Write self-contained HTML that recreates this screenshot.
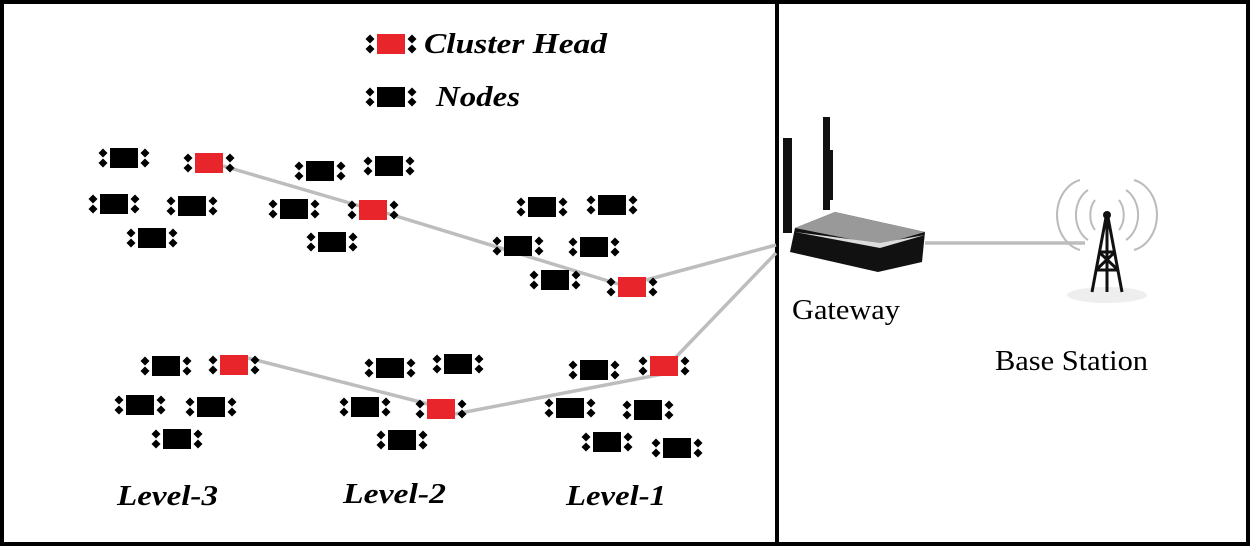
<!DOCTYPE html>
<html><head><meta charset="utf-8"><style>
html,body{margin:0;padding:0;background:#fff;}
svg{display:block;}
</style></head><body>
<svg width="1250" height="546" viewBox="0 0 1250 546" xmlns="http://www.w3.org/2000/svg">
<defs>
<g id="d"><polygon points="0,-4.5 4.5,0 0,4.5 -4.5,0" fill="#000"/></g>
<g id="n">
<rect x="-14" y="-10" width="28" height="20" fill="#000"/>
<use href="#d" x="-21" y="-5"/><use href="#d" x="-21" y="5"/>
<use href="#d" x="21" y="-5"/><use href="#d" x="21" y="5"/>
</g>
<g id="c">
<rect x="-14" y="-10" width="28" height="20" fill="#e8252a"/>
<use href="#d" x="-21" y="-5"/><use href="#d" x="-21" y="5"/>
<use href="#d" x="21" y="-5"/><use href="#d" x="21" y="5"/>
</g>
</defs>
<rect x="2" y="2" width="1246" height="542" fill="#fff" stroke="#000" stroke-width="4"/>
<line x1="777" y1="0" x2="777" y2="546" stroke="#000" stroke-width="4"/>

<g stroke="#bdbdbd" stroke-width="3.5" fill="none">
<line x1="223" y1="166" x2="360" y2="206"/>
<line x1="386" y1="213" x2="618" y2="284"/>
<line x1="646" y1="280" x2="776" y2="245"/>
<line x1="676" y1="357" x2="776" y2="253"/>
<line x1="248" y1="358" x2="428" y2="404"/>
<line x1="455" y1="414" x2="668" y2="373"/>
<line x1="925" y1="243" x2="1085" y2="243"/>
</g>

<use href="#c" x="391" y="44"/>
<use href="#n" x="391" y="97"/>
<g font-family="Liberation Serif, serif" font-weight="bold" font-style="italic" font-size="28" fill="#000">
<text x="424" y="53" textLength="183" lengthAdjust="spacingAndGlyphs">Cluster Head</text>
<text x="436" y="106" textLength="84" lengthAdjust="spacingAndGlyphs">Nodes</text>
<text x="117" y="505" textLength="101" lengthAdjust="spacingAndGlyphs">Level-3</text>
<text x="343" y="503" textLength="103" lengthAdjust="spacingAndGlyphs">Level-2</text>
<text x="566" y="505" textLength="100" lengthAdjust="spacingAndGlyphs">Level-1</text>
</g>

<use href="#n" x="124" y="158"/><use href="#c" x="209" y="163"/>
<use href="#n" x="114" y="204"/><use href="#n" x="192" y="206"/><use href="#n" x="152" y="238"/>
<use href="#n" x="320" y="171"/><use href="#n" x="389" y="166"/>
<use href="#n" x="294" y="209"/><use href="#c" x="373" y="210"/><use href="#n" x="332" y="242"/>
<use href="#n" x="542" y="207"/><use href="#n" x="612" y="205"/>
<use href="#n" x="518" y="246"/><use href="#n" x="594" y="247"/>
<use href="#n" x="555" y="280"/><use href="#c" x="632" y="287"/>

<use href="#n" x="166" y="366"/><use href="#c" x="234" y="365"/>
<use href="#n" x="140" y="405"/><use href="#n" x="211" y="407"/><use href="#n" x="177" y="439"/>
<use href="#n" x="390" y="368"/><use href="#n" x="458" y="364"/>
<use href="#n" x="365" y="407"/><use href="#c" x="441" y="409"/><use href="#n" x="402" y="440"/>
<use href="#n" x="594" y="370"/><use href="#c" x="664" y="366"/>
<use href="#n" x="570" y="408"/><use href="#n" x="648" y="410"/>
<use href="#n" x="607" y="442"/><use href="#n" x="677" y="448"/>

<rect x="783" y="138" width="9" height="95" fill="#111"/>
<rect x="823" y="117" width="7" height="93" fill="#111"/>
<rect x="829" y="150" width="4" height="50" fill="#111"/>
<polygon points="795,228 835,212 925,232 922,262 878,272 790,252" fill="#111"/>
<polygon points="795,228 835,212 925,232 880,245" fill="#999"/>
<polygon points="795,232 880,248 925,235 880,243" fill="#ddd"/>

<g fill="none" stroke="#bbb" stroke-width="2">
<path d="M1095,200 a14,20 0 0,0 0,30"/><path d="M1119,200 a14,20 0 0,1 0,30"/>
<path d="M1088,190 a22,28 0 0,0 0,50"/><path d="M1126,190 a22,28 0 0,1 0,50"/>
<path d="M1080,180 a30,36 0 0,0 0,70"/><path d="M1134,180 a30,36 0 0,1 0,70"/>
</g>
<ellipse cx="1107" cy="295" rx="40" ry="8" fill="#eee"/>
<g stroke="#111" stroke-width="3" fill="none">
<line x1="1107" y1="212" x2="1092" y2="292"/>
<line x1="1107" y1="212" x2="1122" y2="292"/>
<line x1="1107" y1="212" x2="1107" y2="292"/>
<line x1="1099" y1="252" x2="1115" y2="252"/>
<line x1="1096" y1="270" x2="1118" y2="270"/>
<line x1="1099" y1="252" x2="1118" y2="270"/>
<line x1="1115" y1="252" x2="1096" y2="270"/>
</g>
<circle cx="1107" cy="215" r="4" fill="#111"/>

<g font-family="Liberation Serif, serif" font-size="28" fill="#000">
<text x="792" y="319" textLength="108" lengthAdjust="spacingAndGlyphs">Gateway</text>
<text x="995" y="370" textLength="153" lengthAdjust="spacingAndGlyphs">Base Station</text>
</g>
</svg>
</body></html>
